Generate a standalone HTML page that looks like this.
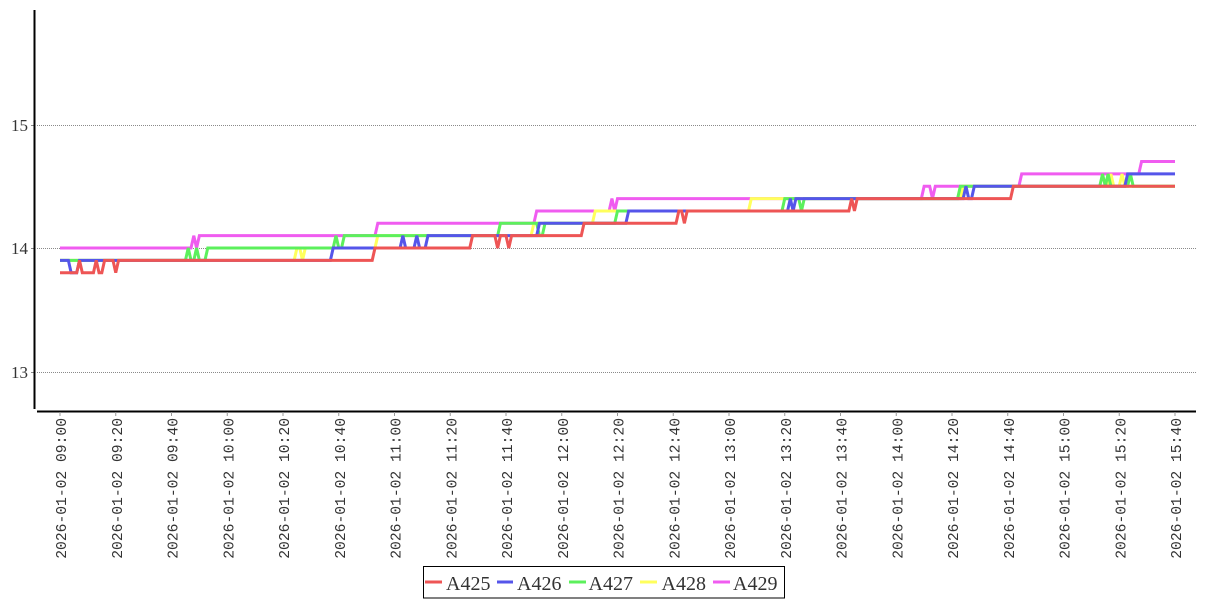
<!DOCTYPE html>
<html><head><meta charset="utf-8"><style>
html,body{margin:0;padding:0;background:#fff;}
svg{display:block;}
.yl{font-family:"Liberation Serif",serif;font-size:17px;fill:#333;}
.xl{font-family:"Liberation Mono",monospace;font-size:14.67px;fill:#333;}
.lg{font-family:"Liberation Serif",serif;font-size:20px;fill:#333;}
</style></head><body>
<svg width="1207" height="600" viewBox="0 0 1207 600" xmlns="http://www.w3.org/2000/svg">
<rect width="1207" height="600" fill="#fff"/>
<!-- grid -->
<g stroke="#8a8a8a" stroke-width="1" stroke-dasharray="1,1">
<line x1="37" y1="125.5" x2="1196" y2="125.5"/>
<line x1="37" y1="248.5" x2="1196" y2="248.5"/>
<line x1="37" y1="372.5" x2="1196" y2="372.5"/>
</g>
<!-- y ticks -->
<g stroke="#888" stroke-width="1">
<line x1="31" y1="125.5" x2="34" y2="125.5"/>
<line x1="31" y1="248.5" x2="34" y2="248.5"/>
<line x1="31" y1="372.5" x2="34" y2="372.5"/>
</g>
<text class="yl" x="28" y="131" text-anchor="end">15</text>
<text class="yl" x="28" y="254" text-anchor="end">14</text>
<text class="yl" x="28" y="378" text-anchor="end">13</text>
<!-- axes -->
<line x1="34.5" y1="10" x2="34.5" y2="409" stroke="#000" stroke-width="2"/>
<line x1="37" y1="411.5" x2="1196" y2="411.5" stroke="#000" stroke-width="2"/>
<!-- x ticks -->
<g stroke="#999" stroke-width="1">
<line x1="60" y1="412" x2="60" y2="416"/><line x1="115.75" y1="412" x2="115.75" y2="416"/><line x1="171.5" y1="412" x2="171.5" y2="416"/><line x1="227.25" y1="412" x2="227.25" y2="416"/><line x1="283" y1="412" x2="283" y2="416"/><line x1="338.75" y1="412" x2="338.75" y2="416"/><line x1="394.5" y1="412" x2="394.5" y2="416"/><line x1="450.25" y1="412" x2="450.25" y2="416"/><line x1="506" y1="412" x2="506" y2="416"/><line x1="561.75" y1="412" x2="561.75" y2="416"/><line x1="617.5" y1="412" x2="617.5" y2="416"/><line x1="673.25" y1="412" x2="673.25" y2="416"/><line x1="729" y1="412" x2="729" y2="416"/><line x1="784.75" y1="412" x2="784.75" y2="416"/><line x1="840.5" y1="412" x2="840.5" y2="416"/><line x1="896.25" y1="412" x2="896.25" y2="416"/><line x1="952" y1="412" x2="952" y2="416"/><line x1="1007.75" y1="412" x2="1007.75" y2="416"/><line x1="1063.5" y1="412" x2="1063.5" y2="416"/><line x1="1119.25" y1="412" x2="1119.25" y2="416"/><line x1="1175" y1="412" x2="1175" y2="416"/>
</g>
<g class="xl" text-anchor="end">
<text transform="translate(66,418) rotate(-90)">2026-01-02 09:00</text>
<text transform="translate(121.75,418) rotate(-90)">2026-01-02 09:20</text>
<text transform="translate(177.5,418) rotate(-90)">2026-01-02 09:40</text>
<text transform="translate(233.25,418) rotate(-90)">2026-01-02 10:00</text>
<text transform="translate(289,418) rotate(-90)">2026-01-02 10:20</text>
<text transform="translate(344.75,418) rotate(-90)">2026-01-02 10:40</text>
<text transform="translate(400.5,418) rotate(-90)">2026-01-02 11:00</text>
<text transform="translate(456.25,418) rotate(-90)">2026-01-02 11:20</text>
<text transform="translate(512,418) rotate(-90)">2026-01-02 11:40</text>
<text transform="translate(567.75,418) rotate(-90)">2026-01-02 12:00</text>
<text transform="translate(623.5,418) rotate(-90)">2026-01-02 12:20</text>
<text transform="translate(679.25,418) rotate(-90)">2026-01-02 12:40</text>
<text transform="translate(735,418) rotate(-90)">2026-01-02 13:00</text>
<text transform="translate(790.75,418) rotate(-90)">2026-01-02 13:20</text>
<text transform="translate(846.5,418) rotate(-90)">2026-01-02 13:40</text>
<text transform="translate(902.25,418) rotate(-90)">2026-01-02 14:00</text>
<text transform="translate(958,418) rotate(-90)">2026-01-02 14:20</text>
<text transform="translate(1013.75,418) rotate(-90)">2026-01-02 14:40</text>
<text transform="translate(1069.5,418) rotate(-90)">2026-01-02 15:00</text>
<text transform="translate(1125.25,418) rotate(-90)">2026-01-02 15:20</text>
<text transform="translate(1181,418) rotate(-90)">2026-01-02 15:40</text>
</g>
<!-- series: drawn A429 first, A425 last -->
<g fill="none" stroke-width="3" stroke-linejoin="miter">
<polyline stroke="#f05cf0" points="60,248 191.01,248 193.8,235.65 196.59,248 199.38,235.65 374.99,235.65 377.78,223.3 533.87,223.3 536.66,210.95 609.14,210.95 611.93,198.6 614.71,210.95 617.5,198.6 921.34,198.6 924.13,186.25 929.7,186.25 932.49,198.6 935.28,186.25 1018.9,186.25 1021.69,173.9 1138.76,173.9 1141.55,161.55 1175,161.55"/>
<polyline stroke="#ffff5c" points="60,260.35 294.15,260.35 296.94,248 299.73,248 302.51,260.35 305.3,248 374.99,248 377.78,235.65 531.08,235.65 533.87,223.3 592.41,223.3 595.2,210.95 748.51,210.95 751.3,198.6 960.36,198.6 963.15,186.25 1108.1,186.25 1110.89,173.9 1113.68,186.25 1119.25,186.25 1122.04,173.9 1124.83,186.25 1175,186.25"/>
<polyline stroke="#5cf05c" points="60,260.35 185.44,260.35 188.23,248 191.01,260.35 193.8,260.35 196.59,248 199.38,260.35 204.95,260.35 207.74,248 333.18,248 335.96,235.65 338.75,248 341.54,248 344.33,235.65 497.64,235.65 500.43,223.3 536.66,223.3 539.45,235.65 542.24,235.65 545.03,223.3 614.71,223.3 617.5,210.95 781.96,210.95 784.75,198.6 798.69,198.6 801.48,210.95 804.26,198.6 957.58,198.6 960.36,186.25 1099.74,186.25 1102.53,173.9 1105.31,186.25 1108.1,173.9 1110.89,186.25 1127.61,186.25 1130.4,173.9 1133.19,186.25 1175,186.25"/>
<polyline stroke="#5555ea" points="60,260.35 68.36,260.35 71.15,272.7 76.73,272.7 79.51,260.35 330.39,260.35 333.18,248 400.08,248 402.86,235.65 405.65,248 414.01,248 416.8,235.65 419.59,248 425.16,248 427.95,235.65 536.66,235.65 539.45,223.3 625.86,223.3 628.65,210.95 787.54,210.95 790.33,198.6 793.11,210.95 795.9,198.6 963.15,198.6 965.94,186.25 968.73,198.6 971.51,198.6 974.3,186.25 1124.83,186.25 1127.61,173.9 1175,173.9"/>
<polyline stroke="#ee5555" points="60,272.7 76.73,272.7 79.51,260.35 82.3,272.7 93.45,272.7 96.24,260.35 99.03,272.7 101.81,272.7 104.6,260.35 112.96,260.35 115.75,272.7 118.54,260.35 372.2,260.35 374.99,248 469.76,248 472.55,235.65 494.85,235.65 497.64,248 500.43,235.65 506,235.65 508.79,248 511.58,235.65 581.26,235.65 584.05,223.3 676.04,223.3 678.83,210.95 681.61,210.95 684.4,223.3 687.19,210.95 848.86,210.95 851.65,198.6 854.44,210.95 857.23,198.6 1010.54,198.6 1013.33,186.25 1175,186.25"/>
</g>
<!-- legend -->
<rect x="423.5" y="566.5" width="361" height="31.5" fill="#fff" stroke="#000" stroke-width="1"/>
<g stroke-width="3">
<line x1="425" y1="582" x2="442" y2="582" stroke="#ee5555"/>
<line x1="497" y1="582" x2="513" y2="582" stroke="#5555ea"/>
<line x1="569" y1="582" x2="586" y2="582" stroke="#5cf05c"/>
<line x1="640" y1="582" x2="657" y2="582" stroke="#ffff5c"/>
<line x1="713" y1="582" x2="730" y2="582" stroke="#f05cf0"/>
</g>
<text class="lg" x="446" y="590">A425</text>
<text class="lg" x="517" y="590">A426</text>
<text class="lg" x="588.5" y="590">A427</text>
<text class="lg" x="661.5" y="590">A428</text>
<text class="lg" x="733" y="590">A429</text>
</svg>
</body></html>
